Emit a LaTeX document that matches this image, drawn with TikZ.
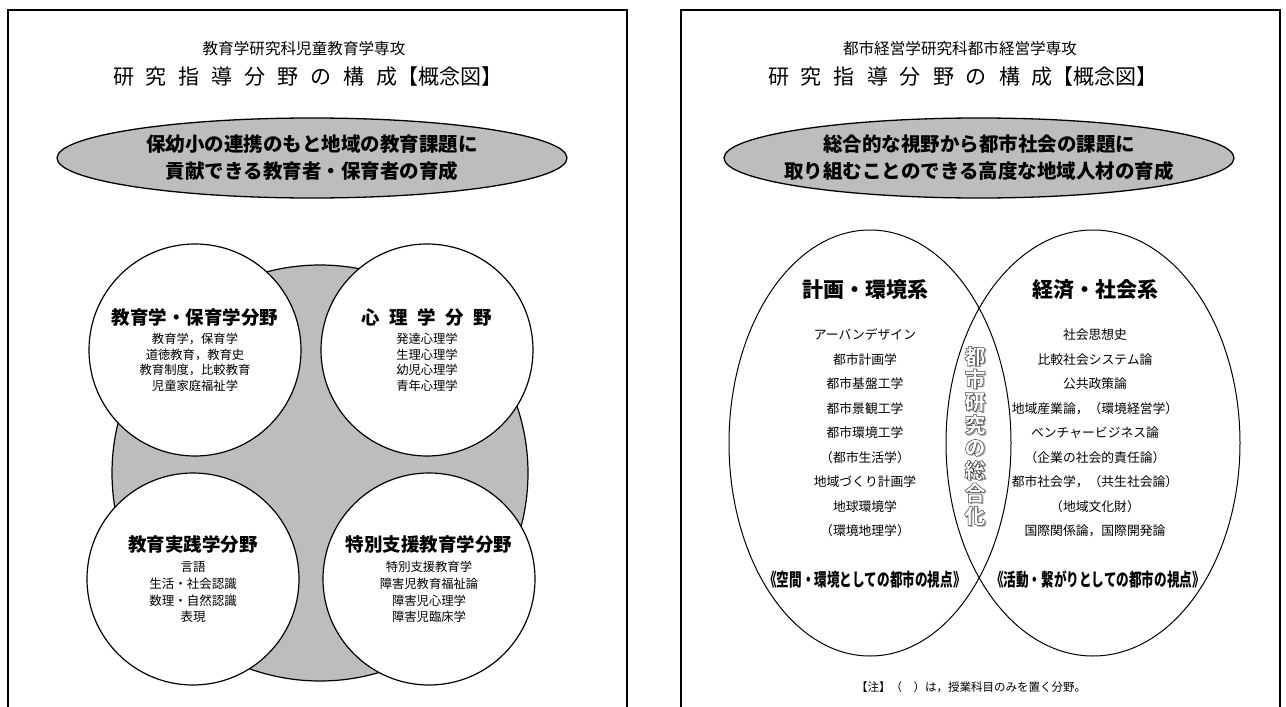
\documentclass[tikz,border=0pt]{standalone}
\usepackage{fontspec}
\setmainfont{Noto Sans CJK JP}
\usetikzlibrary{shapes.geometric}
\usetikzlibrary{positioning}

\definecolor{shade}{gray}{0.74}
\newcommand{\tgap}{\hspace{12pt}}
\newcommand{\fgap}{\hspace{9.5pt}}
\newcommand{\fieldname}[1]{{\bfseries\fontsize{18.5}{20}\selectfont #1}\\[4pt]}

\tikzset{
    frame/.style={line width=2pt},
    subtitle/.style={font=\fontsize{15.6}{18}\selectfont},
    title/.style={font=\fontsize{21}{24}\selectfont},
    goal/.style={ellipse, draw, line width=1.3pt, fill=shade, inner sep=0pt,
        minimum width=510pt, minimum height=80pt},
    goaltext/.style={align=center, inner sep=0pt, font=\bfseries\fontsize{19.5}{27}\selectfont},
    hub/.style={circle, draw, line width=1.2pt, fill=shade, minimum size=416pt},
    field/.style={circle, draw, line width=1.2pt, fill=white, inner sep=0pt,
        minimum size=212pt, align=center, font=\fontsize{12.3}{15.5}\selectfont},
    zone/.style={ellipse, draw, line width=1pt, minimum width=282pt, minimum height=426pt},
    zonehead/.style={font=\bfseries\fontsize{21}{24}\selectfont},
    zonelist/.style={align=center, font=\fontsize{12.8}{24.5}\selectfont},
    view/.style={font=\bfseries\fontsize{18}{20}\selectfont},
    merge/.style={align=center, inner sep=0pt, font=\bfseries\fontsize{21}{22.8}\selectfont}
}

\begin{document}
\begin{tikzpicture}[x=1pt, y=-1pt]
    \useasboundingbox (0,0) rectangle (1286,707);

    % left panel
    \draw[frame] (8,707) -- (8,10) -- (627,10) -- (627,707);
    \node[subtitle] (edusub) at (304,49) {教育学研究科児童教育学専攻};
    \node[title] (edutitle) at (308,77) {研\tgap 究\tgap 指\tgap 導\tgap 分\tgap 野\tgap の\tgap 構\tgap 成【概念図】};
    \node[goal] (edugoal) at (312,158) {};
    \node[goaltext] (edugoaltext) at (edugoal) {保幼小の連携のもと地域の教育課題に\\貢献できる教育者・保育者の育成};

    \node[hub] (core) at (320,473) {};
    \node[field] (pedagogy) at (195,350) {\fieldname{教育学・保育学分野}教育学，保育学\\道徳教育，教育史\\教育制度，比較教育\\児童家庭福祉学};
    \node[field] (psych) at (427,350) {\fieldname{心\fgap 理\fgap 学\fgap 分\fgap 野}発達心理学\\生理心理学\\幼児心理学\\青年心理学};
    \node[field, font=\fontsize{12.5}{16.7}\selectfont] (practice) at (193,579) {\fieldname{教育実践学分野}言語\\生活・社会認識\\数理・自然認識\\表現};
    \node[field, font=\fontsize{12.3}{16.7}\selectfont] (support) at (429,579) {\fieldname{特別支援教育学分野}特別支援教育学\\障害児教育福祉論\\障害児心理学\\障害児臨床学};

    % right panel
    \draw[frame] (681,707) -- (681,10) -- (1280,10) -- (1280,707);
    \node[subtitle] (urbsub) at (960,49) {都市経営学研究科都市経営学専攻};
    \node[title] (urbtitle) at (963,77) {研\tgap 究\tgap 指\tgap 導\tgap 分\tgap 野\tgap の\tgap 構\tgap 成【概念図】};
    \node[goal] (urbgoal) at (979,158) {};
    \node[goaltext] (urbgoaltext) at (urbgoal) {総合的な視野から都市社会の課題に\\取り組むことのできる高度な地域人材の育成};

    \node[zone] (plan) at (870,443) {};
    \node[zone, minimum width=294pt] (econ) at (1093,443) {};

    \node[zonehead] (planhead) at (865,290) {計画・環境系};
    \node[zonelist] (planlist) at (865,433) {アーバンデザイン\\都市計画学\\都市基盤工学\\都市景観工学\\都市環境工学\\（都市生活学）\\地域づくり計画学\\地球環境学\\（環境地理学）};
    \node[view] (planview) at (865,580) {\scalebox{0.7}[1]{《空間・環境としての都市の視点》}};

    \node[zonehead] (econhead) at (1095,290) {経済・社会系};
    \node[zonelist] (econlist) at (1095,433) {社会思想史\\比較社会システム論\\公共政策論\\地域産業論，（環境経営学）\\ベンチャービジネス論\\（企業の社会的責任論）\\都市社会学，（共生社会論）\\（地域文化財）\\国際関係論，国際開発論};
    \node[view] (econview) at (1098,580) {\scalebox{0.7}[1]{《活動・繋がりとしての都市の視点》}};

    \node[merge, text=gray!70] (mergeshade) at (976.5,437.5) {都\\市\\研\\究\\の\\総\\合\\化};
    \node[merge, text=white] (merge) at (975,436) {\special{pdf:code 2 Tr 0.5 w 0.25 G}都\\市\\研\\究\\の\\総\\合\\化\special{pdf:code 0 Tr}};

    \node[font=\fontsize{11.5}{13}\selectfont] (note) at (971,687) {【注】（　）は，授業科目のみを置く分野。};
\end{tikzpicture}
\end{document}
